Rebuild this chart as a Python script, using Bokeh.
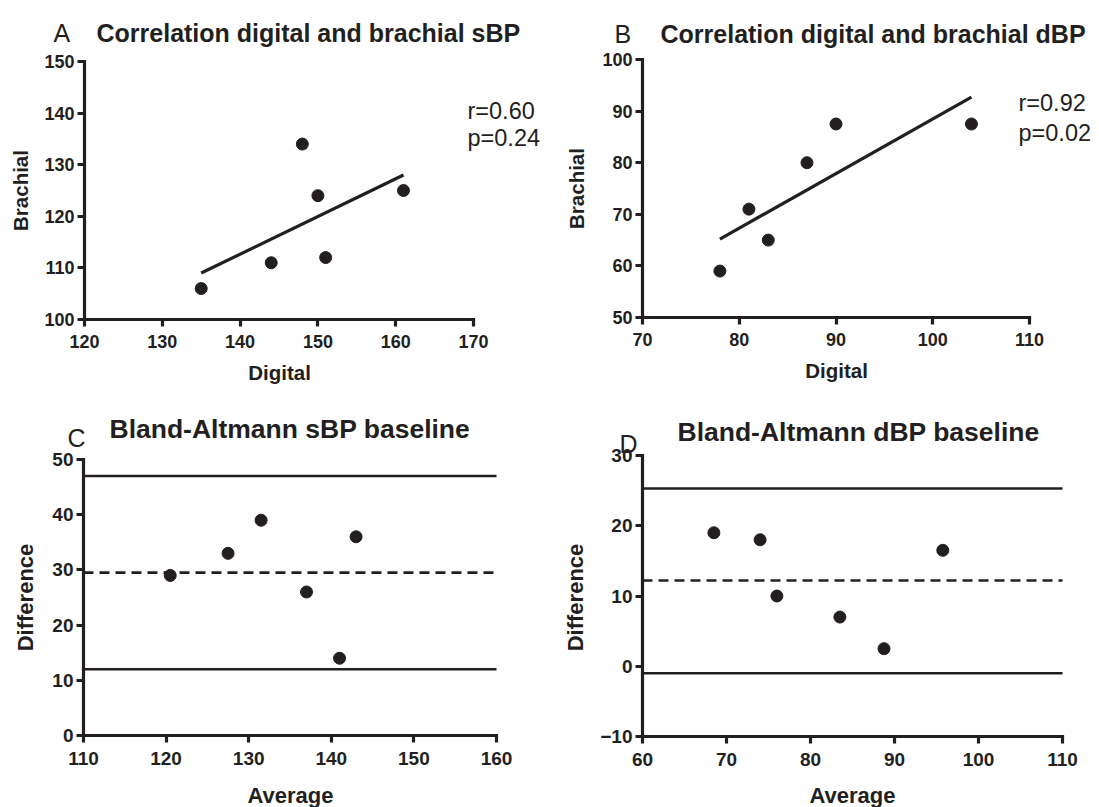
import math

from bokeh.plotting import figure
from bokeh.models import Range1d, FixedTicker, Label
from bokeh.layouts import column, row
from bokeh.embed import file_html
from bokeh.resources import INLINE

INK = "#231f20"
FONT = "Liberation Sans"

# ---- Panel A: systolic BP, digital vs brachial (mmHg) ----
sbp_digital = [135, 144, 148, 150, 151, 161]
sbp_brachial = [106, 111, 134, 124, 112, 125]
sbp_fit_x = [135, 161]
sbp_fit_y = [109.0, 128.0]
sbp_stats = ["r=0.60", "p=0.24"]
sbp_xticks = [120, 130, 140, 150, 160, 170]
sbp_yticks = [100, 110, 120, 130, 140, 150]

# ---- Panel B: diastolic BP, digital vs brachial (mmHg) ----
dbp_digital = [78, 81, 83, 87, 90, 104]
dbp_brachial = [59, 71, 65, 80, 87.5, 87.5]
dbp_fit_x = [78, 104]
dbp_fit_y = [65.2, 92.7]
dbp_stats = ["r=0.92", "p=0.02"]
dbp_xticks = [70, 80, 90, 100, 110]
dbp_yticks = [50, 60, 70, 80, 90, 100]

# ---- Panel C: Bland-Altman, systolic ----
ba_sbp_avg = [120.5, 127.5, 131.5, 137.0, 141.0, 143.0]
ba_sbp_diff = [29, 33, 39, 26, 14, 36]
ba_sbp_limits = [12.0, 47.0]   # lower / upper limits of agreement
ba_sbp_bias = 29.5
ba_sbp_xticks = [110, 120, 130, 140, 150, 160]
ba_sbp_yticks = [0, 10, 20, 30, 40, 50]

# ---- Panel D: Bland-Altman, diastolic ----
ba_dbp_avg = [68.5, 74.0, 76.0, 83.5, 88.75, 95.75]
ba_dbp_diff = [19, 18, 10, 7, 2.5, 16.5]
ba_dbp_limits = [-1.0, 25.3]
ba_dbp_bias = 12.2
ba_dbp_xticks = [60, 70, 80, 90, 100, 110]
ba_dbp_yticks = [-10, 0, 10, 20, 30]


class Panel:
    """One figure whose frame fills its whole cell; the axes are pinned at the first
    tick of each scale and bounded to the tick range, so headings, statistics and
    axis titles can all live inside the frame as labels."""

    def __init__(self, width, height, origin, axis_px, ticks_x, ticks_y):
        self.ox, self.oy = origin
        L, R, T, B = axis_px
        self.L, self.B = L, B
        self.x0, x1 = ticks_x[0], ticks_x[-1]
        self.y0, y1 = ticks_y[0], ticks_y[-1]
        self.sx = (x1 - self.x0) / (R - L)
        self.sy = (y1 - self.y0) / (B - T)
        xr = (self.x0 + (self.ox - L) * self.sx, self.x0 + (self.ox + width - L) * self.sx)
        yr = (self.y0 + (B - (self.oy + height)) * self.sy, self.y0 + (B - self.oy) * self.sy)
        p = figure(width=width, height=height, output_backend="svg", toolbar_location=None,
                   x_range=Range1d(*xr), y_range=Range1d(*yr),
                   min_border=0, min_border_left=0, min_border_right=0,
                   min_border_top=0, min_border_bottom=0)
        p.grid.visible = False
        p.outline_line_color = None
        p.background_fill_color = "white"
        p.border_fill_color = "white"
        p.xaxis.fixed_location = self.y0
        p.yaxis.fixed_location = self.x0
        p.xaxis.bounds = (self.x0, x1)
        p.yaxis.bounds = (self.y0, y1)
        for ax, ticks in ((p.xaxis[0], ticks_x), (p.yaxis[0], ticks_y)):
            ax.ticker = FixedTicker(ticks=ticks)
            ax.axis_line_width = 3.2
            ax.axis_line_color = INK
            ax.axis_line_cap = "square"
            ax.major_tick_line_width = 3.2
            ax.major_tick_line_color = INK
            ax.major_tick_out = 7
            ax.major_tick_in = 0
            ax.minor_tick_line_color = None
            ax.major_label_text_font = FONT
            ax.major_label_text_font_style = "bold"
            ax.major_label_text_color = INK
            ax.axis_label = None
        p.yaxis[0].major_label_standoff = 3
        self.p = p

    def tick_font(self, size, x_standoff):
        for ax in (self.p.xaxis[0], self.p.yaxis[0]):
            ax.major_label_text_font_size = f"{size}px"
        self.p.xaxis[0].major_label_standoff = x_standoff

    def to_data(self, px, py):
        return (self.x0 + (px - self.L) * self.sx, self.y0 + (self.B - py) * self.sy)

    def text(self, px, py, text, size, bold=False, align="left", baseline="alphabetic", angle=0.0):
        x, y = self.to_data(px, py)
        self.p.add_layout(Label(x=x, y=y, text=text, text_font=FONT,
                                text_font_size=f"{size}px",
                                text_font_style="bold" if bold else "normal",
                                text_color=INK, text_align=align, text_baseline=baseline,
                                angle=angle))

    def axis_titles(self, xlabel, xpos, ylabel, ypos, size):
        self.text(xpos[0], xpos[1], xlabel, size, bold=True, align="center", baseline="middle")
        self.text(ypos[0], ypos[1], ylabel, size, bold=True, align="center", baseline="middle",
                  angle=math.pi / 2)


# ---------------- Panel A ----------------
A = Panel(550, 400, (0, 0), (84, 473, 61, 319), sbp_xticks, sbp_yticks)
A.tick_font(18, 8)
A.p.line(sbp_fit_x, sbp_fit_y, line_width=3.2, color=INK)
A.p.scatter(sbp_digital, sbp_brachial, size=12, color=INK)
A.text(53, 32, "A", 25)
A.text(96, 32, "Correlation digital and brachial sBP", 25, bold=True)
A.text(467, 110, sbp_stats[0], 23.5)
A.text(467, 137, sbp_stats[1], 23.5)
A.axis_titles("Digital", (279, 372), "Brachial", (20, 190), 20.5)

# ---------------- Panel B ----------------
B = Panel(549, 400, (550, 0), (642, 1029, 59, 317), dbp_xticks, dbp_yticks)
B.tick_font(18, 8)
B.p.line(dbp_fit_x, dbp_fit_y, line_width=3.2, color=INK)
B.p.scatter(dbp_digital, dbp_brachial, size=12, color=INK)
B.text(614, 33, "B", 25)
B.text(660, 33, "Correlation digital and brachial dBP", 25, bold=True)
B.text(1018, 102, dbp_stats[0], 23.5)
B.text(1018, 132, dbp_stats[1], 23.5)
B.axis_titles("Digital", (836, 370), "Brachial", (576, 188), 20.5)

# ---------------- Panel C ----------------
C = Panel(550, 407, (0, 400), (83, 496, 459, 735), ba_sbp_xticks, ba_sbp_yticks)
C.tick_font(19, 9)
for lim in ba_sbp_limits:
    C.p.line([ba_sbp_xticks[0], ba_sbp_xticks[-1]], [lim, lim], line_color=INK, line_width=2.6)
C.p.line([ba_sbp_xticks[0], ba_sbp_xticks[-1]], [ba_sbp_bias, ba_sbp_bias], line_color=INK,
         line_width=2.6, line_dash="10 6")
C.p.scatter(ba_sbp_avg, ba_sbp_diff, size=12, color=INK)
C.text(67, 437, "C", 25)
C.text(109, 428, "Bland-Altmann sBP baseline", 26.5, bold=True)
C.axis_titles("Average", (290, 795), "Difference", (25, 597), 22)

# ---------------- Panel D ----------------
D = Panel(549, 407, (550, 400), (642, 1062, 455, 736), ba_dbp_xticks, ba_dbp_yticks)
D.tick_font(19, 9)
for lim in ba_dbp_limits:
    D.p.line([ba_dbp_xticks[0], ba_dbp_xticks[-1]], [lim, lim], line_color=INK, line_width=2.6)
D.p.line([ba_dbp_xticks[0], ba_dbp_xticks[-1]], [ba_dbp_bias, ba_dbp_bias], line_color=INK,
         line_width=2.6, line_dash="10 6")
D.p.scatter(ba_dbp_avg, ba_dbp_diff, size=12, color=INK)
D.text(619, 443, "D", 25)
D.text(677, 431, "Bland-Altmann dBP baseline", 26.5, bold=True)
D.axis_titles("Average", (852, 795), "Difference", (575, 597), 22)

layout = column(row(A.p, B.p, spacing=0), row(C.p, D.p, spacing=0), spacing=0)

with open("out.html", "w") as f:
    f.write(file_html(layout, INLINE))
